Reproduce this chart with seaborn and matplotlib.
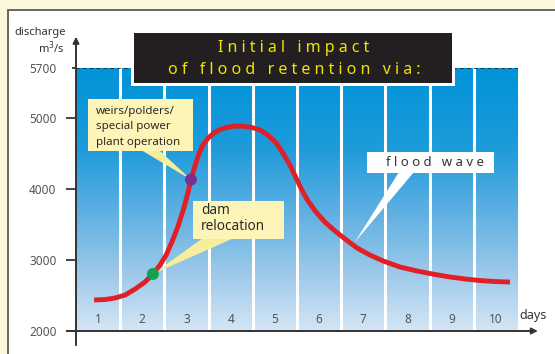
import matplotlib
matplotlib.use("Agg")
import matplotlib.pyplot as plt
import numpy as np
import pandas as pd
import seaborn as sns
from matplotlib.patches import Rectangle, Polygon
from matplotlib.colors import LinearSegmentedColormap

# ---- data -------------------------------------------------------------
day_numbers = [1, 2, 3, 4, 5, 6, 7, 8, 9, 10]
y_ticks = [2000, 3000, 4000, 5000, 5700]
bank_full = 5700

wave_days = [0.41, 0.66, 0.88, 1.11, 1.34, 1.56, 1.74, 1.90, 2.04, 2.17,
             2.31, 2.44, 2.53, 2.60, 2.69, 2.78, 2.87, 2.99, 3.12, 3.26,
             3.44, 3.62, 3.80, 3.98, 4.16, 4.34, 4.53, 4.68, 4.84, 4.98,
             5.11, 5.25, 5.43, 5.63, 5.86, 6.09, 6.36, 6.65, 6.95, 7.33,
             7.72, 8.12, 8.46, 8.80, 9.14, 9.48, 9.82]
wave_discharge = [2436, 2443, 2464, 2506, 2591, 2689, 2802, 2928, 3069, 3252,
                  3477, 3730, 3941, 4130, 4321, 4490, 4617, 4715, 4785, 4835,
                  4870, 4884, 4880, 4863, 4828, 4757, 4645, 4504, 4335, 4152,
                  3984, 3829, 3674, 3533, 3407, 3294, 3168, 3069, 2985, 2900,
                  2844, 2795, 2760, 2732, 2710, 2696, 2689]

measure_names = ["dam relocation", "weirs/polders/special power plant operation"]
measure_days = [1.74, 2.60]
measure_discharge = [2802, 4130]
measure_colors = ["#12a150", "#7d2c8f"]

# ---- figure -----------------------------------------------------------
W, H = 555, 354
sns.set_theme(style="white")
plt.rcParams["font.family"] = ["Noto Sans", "DejaVu Sans"]

fig = plt.figure(figsize=(W / 100, H / 100), dpi=100)
fig.patch.set_facecolor("#fdf8dc")


def fx(x):
    return x / W


def fy(y):
    return 1 - y / H


# white framed panel
fig.add_artist(Rectangle((fx(8), fy(400)), fx(600) - fx(8), fy(10) - fy(400),
                         transform=fig.transFigure, facecolor="white",
                         edgecolor="#5a5a5a", lw=1.3, zorder=-5))

ax = fig.add_axes([fx(76), fy(331), fx(518) - fx(76), fy(68) - fy(331)])
ax.set_facecolor("none")
ax.set_xlim(0, 10)
ax.set_ylim(2000, bank_full)
for s in ax.spines.values():
    s.set_visible(False)

# blue gradient water body up to the bank-full level
cmap = LinearSegmentedColormap.from_list(
    "water", [(0.0, "#0093d8"), (0.3, "#1d9bdb"), (0.55, "#5fb0e2"),
              (0.8, "#a2cbeb"), (1.0, "#d3e6f5")])
grad = np.linspace(0, 1, 256).reshape(-1, 1)
ax.imshow(grad, cmap=cmap, aspect="auto", extent=(0, 10, 2000, bank_full),
          origin="upper", zorder=0, interpolation="bicubic")
for d in day_numbers[:-1]:
    ax.axvline(d, color="white", lw=2.2, zorder=1)
ax.plot([0, 10], [bank_full, bank_full], color="#1a2a3a", lw=1.3,
        ls=(0, (2.0, 1.8)), zorder=1.5)

# axes with arrows
ax.annotate("", xy=(0, 6140), xytext=(0, 1800), annotation_clip=False,
            arrowprops=dict(arrowstyle="-|>", color="#333333", lw=1.4,
                            mutation_scale=9, shrinkA=0, shrinkB=0))
ax.annotate("", xy=(10.45, 2000), xytext=(-0.2, 2000), annotation_clip=False,
            arrowprops=dict(arrowstyle="-|>", color="#333333", lw=1.4,
                            mutation_scale=9, shrinkA=0, shrinkB=0))

ax.set_xticks([])
ax.set_yticks(y_ticks)
ax.set_yticklabels([str(v) for v in y_ticks])
ax.tick_params(axis="y", length=7, width=1.4, color="#444444", pad=7,
               labelsize=8.5, labelcolor="#555555", left=True)
ax.yaxis.get_major_ticks()[-1].tick1line.set_markersize(3)

for d in day_numbers:
    ax.text(d - 0.5, 2160, str(d), ha="center", va="center", fontsize=8.5,
            color="#555555", zorder=2)

fig.text(fx(519), fy(316), "days", ha="left", va="center", fontsize=9,
         color="#333333")
fig.text(fx(40), fy(33), "discharge", ha="center", va="center", fontsize=8,
         color="#333333")
fig.text(fx(65), fy(48), "m$^3$/s", ha="right", va="center", fontsize=8,
         color="#333333")

# flood hydrograph and measure markers
wave = pd.DataFrame({"day": wave_days, "discharge": wave_discharge})
sns.lineplot(data=wave, x="day", y="discharge", ax=ax, color="#e01f26",
             lw=3.5, sort=False, zorder=5, solid_capstyle="butt",
             solid_joinstyle="round")
measures = pd.DataFrame({"day": measure_days, "discharge": measure_discharge,
                         "measure": measure_names})
sns.scatterplot(data=measures, x="day", y="discharge", hue="measure",
                palette=dict(zip(measure_names, measure_colors)), s=75,
                edgecolor="none", ax=ax, zorder=6, legend=False)
ax.set_xlabel("")
ax.set_ylabel("")
ax.set_xlim(0, 10)
ax.set_ylim(2000, bank_full)

to_fig = fig.transFigure.inverted()


def data_to_fig(x, y):
    return tuple(to_fig.transform(ax.transData.transform((x, y))))


def callout(base_px, tip, color):
    pts = [(fx(x), fy(y)) for x, y in base_px] + [tip]
    ax.add_patch(Polygon(pts, closed=True, transform=fig.transFigure,
                         facecolor=color, edgecolor="none", clip_on=False,
                         zorder=3))


def label_box(x0, y0, x1, y1, color):
    ax.add_patch(Rectangle((fx(x0), fy(y1)), fx(x1) - fx(x0), fy(y0) - fy(y1),
                           transform=fig.transFigure, facecolor=color,
                           edgecolor="none", clip_on=False, zorder=4))


note_yellow = "#fdf5b8"
wedge_yellow = "#f6ee9a"

# weirs / polders callout
callout([(141, 150), (159, 150)], data_to_fig(measure_days[1], measure_discharge[1]), wedge_yellow)
label_box(88, 99, 193, 151, note_yellow)
for i, line in enumerate(["weirs/polders/", "special power", "plant operation"]):
    ax.text(fx(96), fy(111 + 15.5 * i), line, transform=fig.transFigure,
            ha="left", va="center", fontsize=8.3, color="#2a2a2a", zorder=7)

# dam relocation callout
callout([(203, 238), (234, 238)], data_to_fig(measure_days[0], measure_discharge[0]), wedge_yellow)
label_box(193, 201, 284, 239, note_yellow)
for i, line in enumerate(["dam", "relocation"]):
    ax.text(fx(201), fy(211 + 15 * i), line, transform=fig.transFigure,
            ha="left", va="center", fontsize=9.8, color="#2a2a2a", zorder=7)

# flood wave callout
callout([(399, 172), (414, 172)], (fx(355), fy(242)), "white")
label_box(367, 152, 494, 173, "white")
ax.text(fx(435), fy(162), " ".join("flood wave"), transform=fig.transFigure,
        ha="center", va="center", fontsize=9.5, color="#333333", zorder=7)

# title banner with a white margin cut into the water body
fig.add_artist(Rectangle((fx(131), fy(86)), fx(455) - fx(131), fy(30) - fy(86),
                         transform=fig.transFigure, facecolor="white",
                         edgecolor="none", zorder=8))
fig.add_artist(Rectangle((fx(134), fy(83)), fx(452) - fx(134), fy(33) - fy(83),
                         transform=fig.transFigure, facecolor="#231f20",
                         edgecolor="none", zorder=9))
fig.text(fx(294), fy(47.5), " ".join("Initial impact"), ha="center",
         va="center", fontsize=11.5, color="#f0e400", zorder=10)
fig.text(fx(294), fy(69.5), " ".join("of flood retention via:"), ha="center",
         va="center", fontsize=11.5, color="#f0e400", zorder=10)

fig.savefig("out.png", dpi=100, facecolor=fig.get_facecolor())
